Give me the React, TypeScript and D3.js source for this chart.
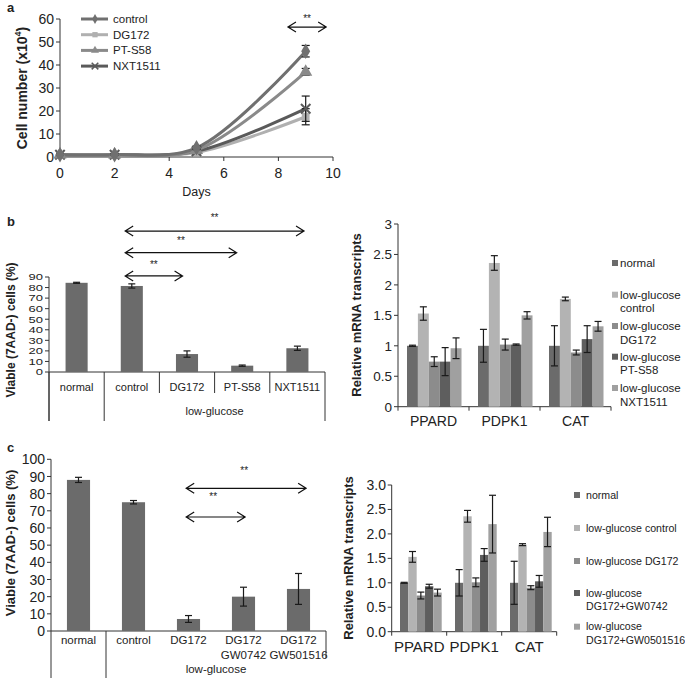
import React from "react";
import * as d3 from "d3";

const FONT = "Arial, 'Liberation Sans', Helvetica, sans-serif";
const TXT = "#222";
const AX = "#333";

// ---------- Panel a data ----------
const daysA = [0, 2, 5, 9];
const seriesA = ["control", "DG172", "PT-S58", "NXT1511"];
const controlCells = [1, 1, 4, 46];
const controlCellsErr = [0.3, 0.3, 0.8, 2.5];
const dg172Cells = [1, 0.8, 2, 17.5];
const dg172CellsErr = [0.3, 0.3, 0.6, 3.5];
const ptCells = [1, 1, 3, 37];
const ptCellsErr = [0.3, 0.3, 0.6, 1.5];
const nxtCells = [1, 1, 2.5, 21];
const nxtCellsErr = [0.3, 0.3, 0.6, 5.5];
const xTicksA = [0, 2, 4, 6, 8, 10];
const yTicksA = [0, 10, 20, 30, 40, 50, 60];
const colorsA = ["#707070", "#b0b0b0", "#8a8a8a", "#5a5a5a"];

// ---------- Panel b left ----------
const catsB = ["normal", "control", "DG172", "PT-S58", "NXT1511"];
const viableB = [84.5, 81.5, 17, 6, 22.5];
const viableBErr = [0.5, 2, 3, 0.6, 2];
const yTicksB = [0, 10, 20, 30, 40, 50, 60, 70, 80, 90];

// ---------- Panel b right ----------
const genes = ["PPARD", "PDPK1", "CAT"];
const legendBR = ["normal", "low-glucose\ncontrol", "low-glucose\nDG172", "low-glucose\nPT-S58", "low-glucose\nNXT1511"];
const brNormal = [1.0, 1.0, 1.0];
const brNormalErr = [0.01, 0.27, 0.33];
const brControl = [1.53, 2.36, 1.77];
const brControlErr = [0.11, 0.12, 0.03];
const brDG172 = [0.74, 1.02, 0.89];
const brDG172Err = [0.08, 0.09, 0.04];
const brPTS58 = [0.74, 1.02, 1.11];
const brPTS58Err = [0.23, 0.01, 0.22];
const brNXT = [0.96, 1.5, 1.32];
const brNXTErr = [0.17, 0.06, 0.08];
const yTicksBR = [0, 0.5, 1, 1.5, 2, 2.5, 3];

// ---------- Panel c left ----------
const catsC = ["normal", "control", "DG172", "DG172\nGW0742", "DG172\nGW501516"];
const viableC = [88, 75, 7, 20, 24.5];
const viableCErr = [1.5, 1, 2, 5.5, 9];
const yTicksC = [0, 10, 20, 30, 40, 50, 60, 70, 80, 90, 100];

// ---------- Panel c right ----------
const legendCR = ["normal", "low-glucose control", "low-glucose DG172", "low-glucose\nDG172+GW0742", "low-glucose\nDG172+GW0501516"];
const crNormal = [1.0, 1.0, 1.0];
const crNormalErr = [0.01, 0.27, 0.44];
const crControl = [1.53, 2.36, 1.78];
const crControlErr = [0.11, 0.12, 0.02];
const crDG172 = [0.74, 1.01, 0.9];
const crDG172Err = [0.07, 0.09, 0.04];
const crGW0742 = [0.93, 1.57, 1.03];
const crGW0742Err = [0.04, 0.13, 0.12];
const crGW501516 = [0.8, 2.2, 2.04];
const crGW501516Err = [0.07, 0.59, 0.3];
const yTicksCR = [0, 0.5, 1, 1.5, 2, 2.5, 3];

const seriesColors = ["#6b6b6b", "#b3b3b3", "#8c8c8c", "#5e5e5e", "#a0a0a0"];
const barGrey = "#6b6b6b";

function ErrBar({ cx, yTop, yBot, cap = 3.5 }: any) {
  return (
    <g stroke="#1a1a1a" strokeWidth={1.2}>
      <line x1={cx} x2={cx} y1={yTop} y2={yBot} />
      <line x1={cx - cap} x2={cx + cap} y1={yTop} y2={yTop} />
      <line x1={cx - cap} x2={cx + cap} y1={yBot} y2={yBot} />
    </g>
  );
}

function Arrow({ x1, x2, y }: any) {
  const d = `M${x1},${y}L${x2},${y}M${x1 + 8},${y - 5}L${x1},${y}L${x1 + 8},${y + 5}M${x2 - 8},${y - 5}L${x2},${y}L${x2 - 8},${y + 5}`;
  return <path d={d} fill="none" stroke="#111" strokeWidth={1.2} />;
}

function Stars({ x, y }: any) {
  return (
    <text x={x} y={y} fontSize={10} textAnchor="middle" fill={TXT} fontFamily={FONT}>**</text>
  );
}

function PanelA() {
  const x = d3.scaleLinear().domain([0, 10]).range([60, 333]);
  const y = d3.scaleLinear().domain([0, 60]).range([157, 19]);
  const vals = [controlCells, dg172Cells, ptCells, nxtCells];
  const errs = [controlCellsErr, dg172CellsErr, ptCellsErr, nxtCellsErr];
  const symbols = [d3.symbolDiamond, d3.symbolSquare, d3.symbolTriangle, d3.symbolTimes];
  const sizes = [70, 60, 75, 60];
  const line = d3.line<number>().x((_, i) => x(daysA[i])).y((v) => y(v)).curve(d3.curveCatmullRom.alpha(0.5));
  const order = [1, 3, 2, 0];
  return (
    <g>
      <text x={7} y={12} fontSize={13} fontWeight="bold" fill={TXT} fontFamily={FONT}>a</text>
      <line x1={x(0)} x2={x(0)} y1={y(0)} y2={y(60)} stroke={AX} />
      <line x1={x(0)} x2={x(10)} y1={y(0)} y2={y(0)} stroke={AX} />
      {yTicksA.map((t) => (
        <g key={"ya" + t}>
          <line x1={x(0) - 4} x2={x(0)} y1={y(t)} y2={y(t)} stroke={AX} />
          <text x={x(0) - 6} y={y(t)} dy="0.36em" textAnchor="end" fontSize={14} fill={TXT} fontFamily={FONT}>{t}</text>
        </g>
      ))}
      {xTicksA.map((t) => (
        <g key={"xa" + t}>
          <line x1={x(t)} x2={x(t)} y1={y(0)} y2={y(0) + 4} stroke={AX} />
          <text x={x(t)} y={178} textAnchor="middle" fontSize={14} fill={TXT} fontFamily={FONT}>{t}</text>
        </g>
      ))}
      <text x={x(5)} y={196} textAnchor="middle" fontSize={12.5} fill={TXT} fontFamily={FONT}>Days</text>
      <text transform={`translate(27,${y(30)}) rotate(-90)`} textAnchor="middle" fontSize={14} fontWeight="bold" fill={TXT} fontFamily={FONT}>
        Cell number (x10<tspan dy={-6} fontSize={9}>4</tspan><tspan dy={6}>)</tspan>
      </text>
      {order.map((si) => (
        <path key={"la" + si} d={line(vals[si]) || ""} fill="none" stroke={colorsA[si]} strokeWidth={3} />
      ))}
      {order.map((si) =>
        vals[si].map((v, i) => (
          <g key={"ma" + si + "_" + i}>
            <ErrBar cx={x(daysA[i])} yTop={y(v + errs[si][i])} yBot={y(v - errs[si][i])} cap={4} />
            <path
              d={d3.symbol(symbols[si], sizes[si])() || ""}
              transform={`translate(${x(daysA[i])},${y(v)})`}
              fill={si === 3 ? "none" : colorsA[si]}
              stroke={colorsA[si]}
              strokeWidth={si === 3 ? 2 : 0}
            />
          </g>
        ))
      )}
      {seriesA.map((s, i) => {
        const ly = 19 + i * 15.7;
        return (
          <g key={"lg" + s}>
            <line x1={81} x2={108} y1={ly} y2={ly} stroke={colorsA[i]} strokeWidth={3} />
            <path d={d3.symbol(symbols[i], i === 3 ? 30 : 28)() || ""} transform={`translate(95,${ly})`} fill={i === 3 ? "none" : colorsA[i]} stroke={colorsA[i]} strokeWidth={i === 3 ? 1.5 : 0} />
            <text x={113} y={ly} dy="0.35em" fontSize={11.5} fill={TXT} fontFamily={FONT}>{s}</text>
          </g>
        );
      })}
      <Arrow x1={x(8.35)} x2={x(9.75)} y={y(56.5)} />
      <Stars x={x(9.05)} y={y(58.5)} />
    </g>
  );
}

function PanelBLeft() {
  const x = d3.scaleBand<string>().domain(catsB).range([49, 325]).paddingInner(0.6).paddingOuter(0.3);
  const y = d3.scaleLinear().domain([0, 90]).range([372, 277]);
  const step = x.step();
  const bw = x.bandwidth();
  const bounds = catsB.map((_, i) => 49 + i * step).concat([325]);
  const arrows = [
    { to: "NXT1511", frac: 0.8, v: 133.5, sv: 143 },
    { to: "PT-S58", frac: 0.25, v: 113, sv: 121 },
    { to: "DG172", frac: 0.3, v: 91, sv: 99 },
  ];
  return (
    <g>
      <text x={7} y={226} fontSize={13} fontWeight="bold" fill={TXT} fontFamily={FONT}>b</text>
      <line x1={49} x2={49} y1={y(90)} y2={421} stroke={AX} />
      <line x1={49} x2={325} y1={y(0)} y2={y(0)} stroke={AX} />
      {bounds.map((b, i) => (
        <line key={"bd" + i} x1={b} x2={b} y1={y(0)} y2={i === 0 || i === 1 || i === bounds.length - 1 ? 421 : 393} stroke={AX} />
      ))}
      {yTicksB.map((t) => (
        <g key={"yb" + t}>
          <line x1={45} x2={49} y1={y(t)} y2={y(t)} stroke={AX} />
          <text transform={`translate(43,${y(t)}) scale(1,0.7)`} dy="0.36em" textAnchor="end" fontSize={13} fill={TXT} fontFamily={FONT}>{t}</text>
        </g>
      ))}
      <text transform={`translate(15,330) rotate(-90)`} textAnchor="middle" fontSize={12} fontWeight="bold" fill={TXT} fontFamily={FONT}>Viable (7AAD-) cells (%)</text>
      {catsB.map((c, i) => (
        <g key={"bb" + c}>
          <rect x={x(c)} y={y(viableB[i])} width={bw} height={y(0) - y(viableB[i])} fill={barGrey} />
          <ErrBar cx={(x(c) as number) + bw / 2} yTop={y(viableB[i] + viableBErr[i])} yBot={y(viableB[i] - viableBErr[i])} cap={3.5} />
          <text x={(x(c) as number) + bw / 2} y={391} textAnchor="middle" fontSize={11} fill={TXT} fontFamily={FONT}>{c}</text>
        </g>
      ))}
      <text x={(bounds[1] + bounds[5]) / 2} y={415} textAnchor="middle" fontSize={11} fill={TXT} fontFamily={FONT}>low-glucose</text>
      {arrows.map((a, i) => {
        const x1 = (x("control") as number) + 0.2 * bw;
        const x2 = (x(a.to) as number) + a.frac * bw;
        return (
          <g key={"ab" + i}>
            <Arrow x1={x1} x2={x2} y={y(a.v)} />
            <Stars x={(x1 + x2) / 2} y={y(a.sv)} />
          </g>
        );
      })}
    </g>
  );
}

function GroupedBars({ x0, x1, yBase, yTop, seriesVals, seriesErrs, padL, padR, tickFmt, tickX, tickSize, labelY, labelSize, title, titleX, titleY }: any) {
  const gx = d3.scaleBand<string>().domain(genes).range([x0, x1]).padding(0);
  const inner = d3.scaleBand<number>().domain(d3.range(seriesVals.length)).range([padL, gx.step() - padR]).padding(0);
  const y = d3.scaleLinear().domain([0, 3]).range([yBase, yTop]);
  const bw = inner.bandwidth();
  return (
    <g>
      <line x1={x0} x2={x0} y1={yBase} y2={yTop} stroke={AX} />
      <line x1={x0} x2={x1} y1={yBase} y2={yBase} stroke={AX} />
      {genes.map((g, i) => (
        <line key={"gt" + i} x1={(gx(g) as number) + gx.step()} x2={(gx(g) as number) + gx.step()} y1={yBase} y2={yBase + 4} stroke={AX} />
      ))}
      <line x1={x0} x2={x0} y1={yBase} y2={yBase + 4} stroke={AX} />
      {yTicksBR.map((t) => (
        <g key={"yt" + t}>
          <line x1={x0 - 4} x2={x0} y1={y(t)} y2={y(t)} stroke={AX} />
          <text x={tickX} y={y(t)} dy="0.36em" textAnchor="end" fontSize={tickSize} fill={TXT} fontFamily={FONT}>{tickFmt(t)}</text>
        </g>
      ))}
      {genes.map((g, gi) =>
        seriesVals.map((vals: number[], si: number) => {
          const bx = (gx(g) as number) + (inner(si) as number);
          const v = vals[gi];
          const e = seriesErrs[si][gi];
          return (
            <g key={"gb" + gi + "_" + si}>
              <rect x={bx} y={y(v)} width={bw} height={yBase - y(v)} fill={seriesColors[si]} />
              <ErrBar cx={bx + bw / 2} yTop={y(v + e)} yBot={y(v - e)} cap={3.5} />
            </g>
          );
        })
      )}
      {genes.map((g) => (
        <text key={"gl" + g} x={(gx(g) as number) + gx.step() / 2} y={labelY} textAnchor="middle" fontSize={labelSize} fill={TXT} fontFamily={FONT}>{g}</text>
      ))}
      <text transform={`translate(${titleX},${titleY}) rotate(-90)`} textAnchor="middle" fontSize={13} fontWeight="bold" fill={TXT} fontFamily={FONT}>{title}</text>
    </g>
  );
}

function Legend({ labels, sqX, txtX, ys, size }: any) {
  return (
    <g>
      {labels.map((l: string, i: number) => {
        const lines = l.split("\n");
        return (
          <g key={"lg" + i}>
            <rect x={sqX} y={ys[i] - 3} width={6} height={6} fill={seriesColors[i]} />
            {lines.map((ln, j) => (
              <text key={j} x={txtX} y={ys[i] + j * 13.5} dy="0.35em" fontSize={size} fill={TXT} fontFamily={FONT}>{ln}</text>
            ))}
          </g>
        );
      })}
    </g>
  );
}

function PanelCLeft() {
  const x = d3.scaleBand<string>().domain(catsC).range([51, 326]).paddingInner(0.58).paddingOuter(0.29);
  const y = d3.scaleLinear().domain([0, 100]).range([631, 459.3]);
  const bw = x.bandwidth();
  const step = x.step();
  const arrows = [
    { to: "DG172\nGW501516", frac: 0.83, v: 83.1, sv: 91.5 },
    { to: "DG172\nGW0742", frac: 0.57, v: 66.4, sv: 76.5 },
  ];
  return (
    <g>
      <text x={7} y={452} fontSize={13} fontWeight="bold" fill={TXT} fontFamily={FONT}>c</text>
      <line x1={51} x2={51} y1={y(100)} y2={678} stroke={AX} />
      <line x1={51} x2={326} y1={y(0)} y2={y(0)} stroke={AX} />
      <line x1={51 + step} x2={51 + step} y1={y(0)} y2={678} stroke={AX} />
      <line x1={326} x2={326} y1={y(0)} y2={658} stroke={AX} />
      {yTicksC.map((t) => (
        <g key={"yc" + t}>
          <line x1={47} x2={51} y1={y(t)} y2={y(t)} stroke={AX} />
          <text x={45} y={y(t)} dy="0.36em" textAnchor="end" fontSize={14} fill={TXT} fontFamily={FONT}>{t}</text>
        </g>
      ))}
      <text transform={`translate(15,543) rotate(-90)`} textAnchor="middle" fontSize={13} fontWeight="bold" fill={TXT} fontFamily={FONT}>Viable (7AAD-) cells (%)</text>
      {catsC.map((c, i) => {
        const cx = (x(c) as number) + bw / 2;
        return (
          <g key={"cb" + i}>
            <rect x={x(c)} y={y(viableC[i])} width={bw} height={y(0) - y(viableC[i])} fill={barGrey} />
            <ErrBar cx={cx} yTop={y(viableC[i] + viableCErr[i])} yBot={y(viableC[i] - viableCErr[i])} cap={3.5} />
            {c.split("\n").map((ln, j) => (
              <text key={j} x={cx} y={644 + j * 14.5} textAnchor="middle" fontSize={11.5} fill={TXT} fontFamily={FONT}>{ln}</text>
            ))}
          </g>
        );
      })}
      <text x={(51 + step + 326) / 2} y={673} textAnchor="middle" fontSize={11.5} fill={TXT} fontFamily={FONT}>low-glucose</text>
      {arrows.map((a, i) => {
        const x1 = (x("DG172") as number) + 0.4 * bw;
        const x2 = (x(a.to) as number) + a.frac * bw;
        return (
          <g key={"ac" + i}>
            <Arrow x1={x1} x2={x2} y={y(a.v)} />
            <Stars x={i === 0 ? (x1 + x2) / 2 - 2 : x1 + 27} y={y(a.sv)} />
          </g>
        );
      })}
    </g>
  );
}

export default function App() {
  return (
    <svg width={685} height={678} viewBox="0 0 685 678" style={{ position: "absolute", left: 0, top: 0, background: "#fff" }}>
      <rect width={685} height={678} fill="#fff" />
      <PanelA />
      <PanelBLeft />
      <GroupedBars
        x0={398} x1={611} yBase={406.7} yTop={224}
        seriesVals={[brNormal, brControl, brDG172, brPTS58, brNXT]}
        seriesErrs={[brNormalErr, brControlErr, brDG172Err, brPTS58Err, brNXTErr]}
        padL={9} padR={7.5}
        tickFmt={(t: number) => String(t)} tickX={392} tickSize={13.5}
        labelY={426} labelSize={14}
        title="Relative mRNA transcripts" titleX={361} titleY={315}
      />
      <Legend labels={legendBR} sqX={612} txtX={620} ys={[263, 294.7, 326, 356.7, 388]} size={11.5} />
      <PanelCLeft />
      <GroupedBars
        x0={391.7} x1={556.7} yBase={631.7} yTop={485}
        seriesVals={[crNormal, crControl, crDG172, crGW0742, crGW501516]}
        seriesErrs={[crNormalErr, crControlErr, crDG172Err, crGW0742Err, crGW501516Err]}
        padL={8.3} padR={5}
        tickFmt={d3.format(".1f")} tickX={386} tickSize={14}
        labelY={652} labelSize={15}
        title="Relative mRNA transcripts" titleX={353} titleY={558}
      />
      <Legend labels={legendCR} sqX={574} txtX={586} ys={[495, 528, 561, 593, 626.7]} size={10.6} />
    </svg>
  );
}
